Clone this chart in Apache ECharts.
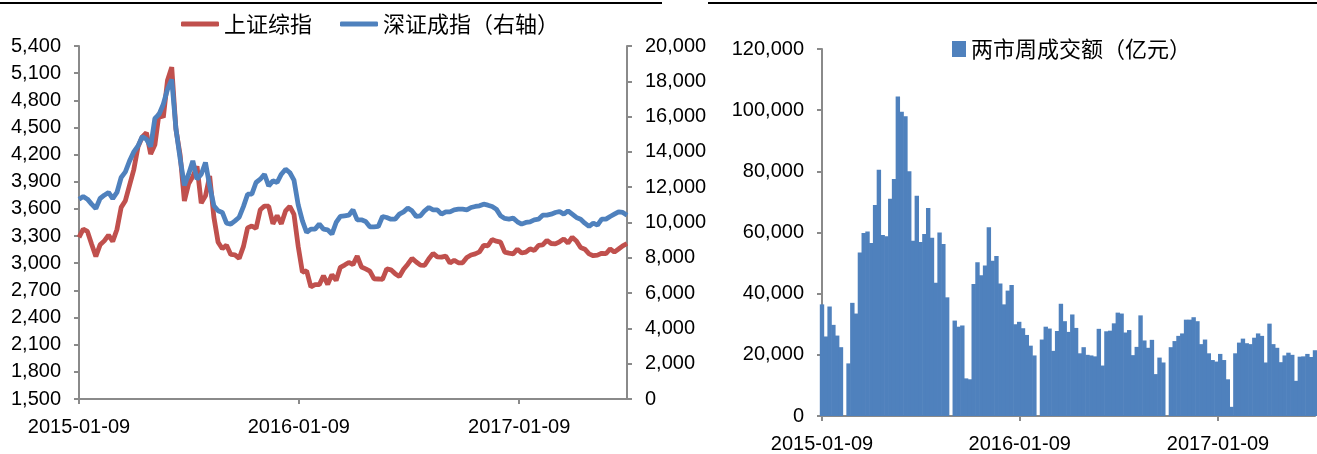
<!DOCTYPE html>
<html>
<head>
<meta charset="utf-8">
<script src="https://cdn.jsdelivr.net/npm/echarts@6/dist/echarts.min.js"></script>
<style>
  html, body { margin: 0; padding: 0; background: #fff; }
  #chart { width: 1317px; height: 454px; }
</style>
</head>
<body>
<div id="chart"></div>
<script>
// Weekly series, one value per Friday starting 2015-01-09
const firstWeek = [2015, 0, 9];
const axisDateLabels = ['2015-01-09', '2016-01-09', '2017-01-09'];

// 上证综指 weekly close
const shComposite = [
  3285, 3376, 3351, 3210, 3076, 3203, 3247, 3310, 3241, 3372,
  3617, 3691, 3863, 4035, 4287, 4394, 4441, 4206, 4308, 4658,
  4611, 5023, 5166, 4478, 4193, 3687, 3877, 3957, 4070, 3664,
  3744, 3965, 3508, 3232, 3160, 3200, 3097, 3092, 3053, 3183,
  3391, 3412, 3383, 3590, 3632, 3630, 3436, 3525, 3435, 3578,
  3628, 3539, 3186, 2901, 2917, 2738, 2763, 2763, 2861, 2767,
  2874, 2810, 2955, 2980, 3009, 2985, 3078, 2959, 2938, 2913,
  2828, 2826, 2822, 2938, 2927, 2885, 2854, 2933, 2989, 3054,
  3013, 2979, 2977, 3050, 3109, 3070, 3067, 3079, 3003, 3033,
  3005, 3005, 3063, 3091, 3104, 3125, 3197, 3193, 3262, 3244,
  3233, 3123, 3111, 3104, 3155, 3113, 3123, 3159, 3140, 3197,
  3202, 3253, 3218, 3213, 3237, 3269, 3223, 3287, 3246, 3173,
  3155, 3103, 3083, 3090, 3110, 3105, 3158, 3123, 3157, 3192,
  3218
];

// 深证成指 weekly close (right axis)
const szComponent = [
  11322, 11473, 11322, 11039, 10794, 11360, 11549, 11700, 11360, 11700,
  12549, 12869, 13492, 14002, 14341, 14870, 14719, 14300, 15900, 16134,
  16700, 17549, 18100, 15300, 13600, 12100, 12737, 13492, 12454, 12737,
  13398, 12077, 10945, 10662, 10567, 9963, 9907, 10095, 10300, 10900,
  11605, 11605, 12266, 12454, 12737, 12077, 12360, 12266, 12737, 13020,
  12832, 12400, 11000, 10095, 9435, 9624, 9624, 9907, 9624, 9586,
  9341, 10001, 10341, 10379, 10416, 10718, 10152, 10152, 10058, 9756,
  9756, 9775, 10341, 10284, 10190, 10190, 10473, 10605, 10813, 10662,
  10341, 10379, 10662, 10851, 10718, 10718, 10473, 10605, 10605, 10718,
  10756, 10756, 10718, 10851, 10907, 10945, 11039, 10982, 10907, 10756,
  10379, 10228, 10190, 10247, 10039, 9907, 10001, 10039, 10152, 10190,
  10416, 10416, 10473, 10567, 10624, 10473, 10662, 10473, 10284, 10190,
  9963, 9775, 9963, 9850, 10190, 10190, 10341, 10473, 10605, 10567,
  10416
];

// 两市周成交额（亿元）
const turnover = [
  36500, 26000, 35800, 29800, 26300, 22500, 0, 17200, 37000, 33500,
  53500, 59800, 60300, 56600, 69000, 80500, 59200, 58800, 71000, 77500,
  104500, 99500, 98000, 80000, 57300, 72000, 56900, 59500, 68000, 58300,
  43600, 60000, 56200, 38800, 0, 31200, 29200, 29600, 12300, 12000,
  43200, 50300, 46000, 49200, 61700, 50800, 52300, 43300, 36500, 41000,
  42800, 30000, 30800, 28700, 26500, 23000, 19800, 0, 25000, 29200,
  28600, 21300, 27800, 36700, 31000, 27500, 33200, 28800, 20500, 22500,
  20000, 19800, 19500, 28500, 16500, 27700, 27900, 30300, 33800, 33500,
  27300, 28100, 19900, 22600, 32900, 24700, 22300, 24900, 13700, 19100,
  17500, 0, 22500, 24500, 26200, 27000, 31500, 31500, 32300, 31000,
  23500, 25000, 20500, 18300, 17800, 20300, 18300, 12000, 3000, 20500,
  24000, 25300, 23800, 23500, 25600, 27000, 26200, 17500, 30200, 23500,
  22300, 17600, 19800, 20700, 20000, 11500, 19400, 19500, 20300, 19300,
  21500
];

const DAY = 86400000;
const weekTimes = [];
for (let i = 0; i < turnover.length; i++) {
  weekTimes.push(new Date(firstWeek[0], firstWeek[1], firstWeek[2]).getTime() + i * 7 * DAY);
}
const labelTimes = axisDateLabels.map(function (s) {
  const p = s.split('-').map(Number);
  return new Date(p[0], p[1] - 1, p[2]).getTime();
});
const pair = function (arr) { return arr.map(function (v, i) { return [weekTimes[i], v]; }); };

const pad = function (n) { return (n < 10 ? '0' : '') + n; };
const fmtDate = function (v) {
  const d = new Date(v);
  return d.getFullYear() + '-' + pad(d.getMonth() + 1) + '-' + pad(d.getDate());
};
const fmtNum = function (v) { return Number(v).toLocaleString('en-US'); };

const NUM_FONT = "'Liberation Sans', Arial, sans-serif";
const CJK_FONT = "'Noto Sans CJK SC', sans-serif";
const AXIS_COLOR = '#8a8a8a';

const axisLineStyle = { show: true, onZero: false, lineStyle: { color: AXIS_COLOR, width: 2 } };
const tickStyle = { show: true, length: 5, lineStyle: { color: AXIS_COLOR, width: 2 } };
const numLabel = { color: '#000', fontSize: 20, fontFamily: NUM_FONT, margin: 18 };

// Date axis drawn as a numeric (timestamp) axis with labels at fixed dates
function dateAxis(gridIndex) {
  return {
    type: 'value', gridIndex: gridIndex, scale: true,
    min: weekTimes[0], max: weekTimes[weekTimes.length - 1],
    axisLine: axisLineStyle,
    axisTick: Object.assign({}, tickStyle, { customValues: labelTimes }),
    axisLabel: Object.assign({}, numLabel, { customValues: labelTimes, formatter: fmtDate, margin: 18, hideOverlap: false }),
    splitLine: { show: false }
  };
}
function valueAxis(gridIndex, min, max, interval, position) {
  return {
    type: 'value', gridIndex: gridIndex, position: position,
    min: min, max: max, interval: interval,
    axisLine: axisLineStyle, axisTick: tickStyle,
    axisLabel: Object.assign({}, numLabel, { formatter: fmtNum }),
    splitLine: { show: false }
  };
}

const chart = echarts.init(document.getElementById('chart'), null, { renderer: 'canvas' });
chart.setOption({
  animation: false,
  backgroundColor: '#fff',
  graphic: [
    { type: 'line', shape: { x1: 0, y1: 3, x2: 662, y2: 3 }, style: { stroke: '#000', lineWidth: 2 } },
    { type: 'line', shape: { x1: 708, y1: 3, x2: 1317, y2: 3 }, style: { stroke: '#000', lineWidth: 2 } }
  ],
  legend: [
    {
      data: ['上证综指', '深证成指（右轴）'],
      left: 176, top: 8, itemWidth: 38, itemHeight: 5, itemGap: 28, icon: 'roundRect',
      textStyle: { fontSize: 22, fontFamily: CJK_FONT, color: '#000' }
    },
    {
      data: ['两市周成交额（亿元）'],
      left: 947, top: 33, itemWidth: 14, itemHeight: 16, icon: 'rect',
      textStyle: { fontSize: 22, fontFamily: CJK_FONT, color: '#000' }
    }
  ],
  grid: [
    { left: 79, top: 46, width: 548, height: 353 },
    { left: 822, top: 49, width: 493, height: 369 }
  ],
  xAxis: [dateAxis(0), dateAxis(1)],
  yAxis: [
    valueAxis(0, 1500, 5400, 300, 'left'),
    valueAxis(0, 0, 20000, 2000, 'right'),
    valueAxis(1, 0, 120000, 20000, 'left')
  ],
  series: [
    {
      name: '上证综指', type: 'line', xAxisIndex: 0, yAxisIndex: 0,
      data: pair(shComposite), showSymbol: false, symbol: 'none',
      color: '#C0504D', lineStyle: { width: 4.8, color: '#C0504D' }
    },
    {
      name: '深证成指（右轴）', type: 'line', xAxisIndex: 0, yAxisIndex: 1,
      data: pair(szComponent), showSymbol: false, symbol: 'none',
      color: '#4F81BD', lineStyle: { width: 4.8, color: '#4F81BD' }
    },
    {
      name: '两市周成交额（亿元）', type: 'bar', xAxisIndex: 1, yAxisIndex: 2,
      data: pair(turnover), barWidth: 4.4,
      color: '#4F81BD', itemStyle: { color: '#4F81BD' }
    }
  ]
});
</script>
</body>
</html>
